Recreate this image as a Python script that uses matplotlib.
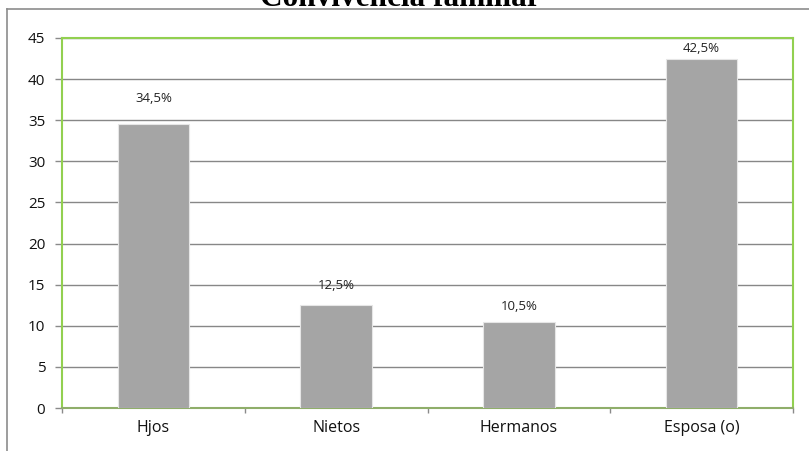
import matplotlib.pyplot as plt
from matplotlib.lines import Line2D

# --- Data ---
categories = ['Hjos', 'Nietos', 'Hermanos', 'Esposa (o)']
values = [34.5, 12.5, 10.5, 42.5]
value_labels = ['34,5%', '12,5%', '10,5%', '42,5%']
y_ticks = [0, 5, 10, 15, 20, 25, 30, 35, 40, 45]

# label centre offset above each bar (data units), as placed in the original
label_gaps = [3.1, 2.45, 1.8, 1.2]

plt.rcParams['font.family'] = ['Open Sans', 'DejaVu Sans']

W, H = 809, 451
fig = plt.figure(figsize=(W / 100, H / 100), dpi=100)

# plot area in pixels: left 62, top 38, right 793, bottom 408
ax = fig.add_axes([62 / W, 1 - 408 / H, (793 - 62) / W, (408 - 38) / H])

x = list(range(len(categories)))
ax.bar(x, values, width=0.39, color='#A5A5A5', edgecolor='#E6E6E6', linewidth=0.8, zorder=3)

for xi, v, lab, gap in zip(x, values, value_labels, label_gaps):
    ax.text(xi, v + gap, lab, ha='center', va='center', fontsize=9.5, color='#222222', zorder=4)

ax.set_xlim(-0.5, len(categories) - 0.5)
ax.set_ylim(0, 45)
ax.set_yticks(y_ticks)
ax.set_yticklabels([str(t) for t in y_ticks], fontsize=11, color='#111111')

ax.set_xticks(x)
ax.set_xticklabels(categories, fontsize=11.5, color='#111111')
ax.tick_params(axis='x', length=0, pad=9)
ax.set_xticks([i - 0.5 for i in range(len(categories) + 1)], minor=True)
ax.tick_params(axis='x', which='minor', length=3.6, color='#8A8A8A', width=1)
ax.tick_params(axis='y', length=5, color='#8A8A8A', width=1, pad=7)
ax.yaxis.get_major_ticks()[-1].tick1line.set_color('#92D050')

ax.yaxis.grid(True, color='#878787', linewidth=1, zorder=0)
ax.set_axisbelow(True)

for side in ['left', 'top', 'right']:
    ax.spines[side].set_color('#92D050')
    ax.spines[side].set_linewidth(1.5)
ax.spines['bottom'].set_color('#8FAE6A')
ax.spines['bottom'].set_linewidth(1.5)

# outer chart frame (cropped at right and bottom)
fig.add_artist(Line2D([7.5 / W, 7.5 / W], [0, 1 - 9 / H], color='#8C8C8C', linewidth=1.2))
fig.add_artist(Line2D([7.5 / W, 1], [1 - 9 / H, 1 - 9 / H], color='#8C8C8C', linewidth=1.2))

# title, cut off at the top edge
fig.text(400 / W, 1 - 6 / H, 'Convivencia familiar', ha='center', va='baseline',
         fontsize=22.5, fontweight='bold', family='Liberation Serif')

fig.savefig('out.png', dpi=100)
